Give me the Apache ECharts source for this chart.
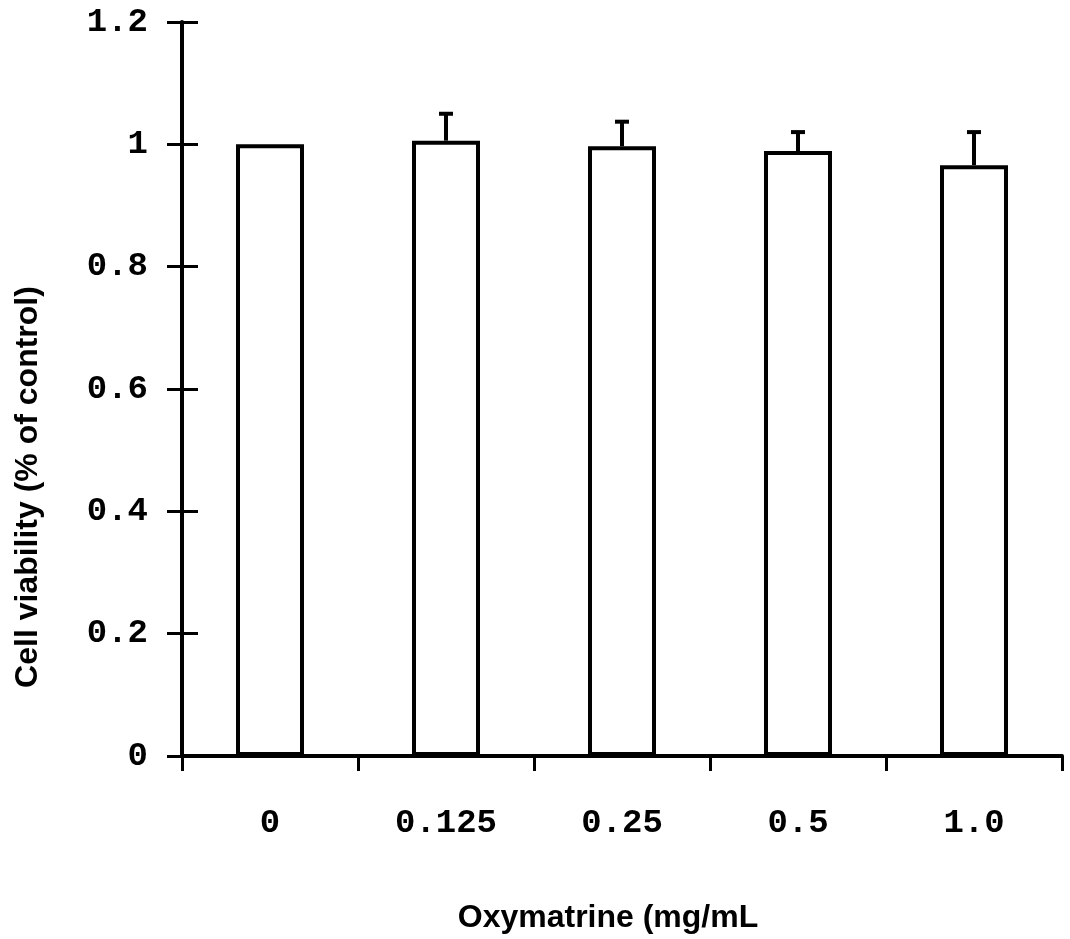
<!DOCTYPE html>
<html>
<head>
<meta charset="utf-8">
<title>Cell viability</title>
<script src="https://cdn.jsdelivr.net/npm/echarts@6/dist/echarts.min.js"></script>
<style>
  html, body { margin: 0; padding: 0; background: #fff; }
  #chart { width: 1070px; height: 939px; }
</style>
</head>
<body>
<div id="chart"></div>
<script>
// data
var doses = ['0', '0.125', '0.25', '0.5', '1.0'];
var viability = [1.0, 1.006, 0.997, 0.989, 0.966];
var errUpper = [0, 0.044, 0.040, 0.031, 0.054];
var yTicks = [0, 0.2, 0.4, 0.6, 0.8, 1, 1.2];

var monoFont = '"Liberation Mono", "DejaVu Sans Mono", monospace';
var sansFont = '"Liberation Sans", Arial, sans-serif';

var chart = echarts.init(document.getElementById('chart'));
chart.setOption({
    backgroundColor: '#fff',
    animation: false,
    grid: { left: 182, right: 8, top: 22, bottom: 181 },
    xAxis: {
        type: 'category',
        data: doses,
        boundaryGap: true,
        axisLine: { lineStyle: { color: '#000', width: 4 } },
        axisTick: { show: true, length: 15, lineStyle: { color: '#000', width: 3 } },
        axisLabel: {
            color: '#000', fontFamily: monoFont, fontWeight: 'bold', fontSize: 34, margin: 50
        },
        name: 'Oxymatrine (mg/mL',
        nameLocation: 'middle',
        nameGap: 146,
        nameTextStyle: {
            color: '#000', fontFamily: sansFont, fontWeight: 'bold', fontSize: 32,
            padding: [0, 28, 0, 0]
        }
    },
    yAxis: [{
        type: 'value',
        min: 0, max: 1.2, interval: 0.2,
        axisLine: { show: true, lineStyle: { color: '#000', width: 4 } },
        axisTick: { show: true, length: 15, lineStyle: { color: '#000', width: 3 } },
        splitLine: { show: false },
        axisLabel: {
            color: '#000', fontFamily: monoFont, fontWeight: 'bold', fontSize: 34, margin: 34,
            formatter: function (v) {
                for (var i = 0; i < yTicks.length; i++) {
                    if (Math.abs(yTicks[i] - v) < 1e-6) return String(yTicks[i]);
                }
                return '';
            }
        },
        name: 'Cell viability (% of control)',
        nameLocation: 'middle',
        nameGap: 138,
        nameTextStyle: {
            color: '#000', fontFamily: sansFont, fontWeight: 'bold', fontSize: 32,
            padding: [0, 196, 0, 0]
        }
    }, {
        // inner half of the y ticks
        type: 'value',
        position: 'left',
        min: 0, max: 1.2, interval: 0.2,
        axisLine: { show: false },
        axisTick: { show: true, inside: true, length: 16, lineStyle: { color: '#000', width: 3 } },
        axisLabel: { show: false },
        splitLine: { show: false }
    }],
    series: [{
        type: 'bar',
        data: viability,
        barWidth: 68,
        itemStyle: { color: '#fff', borderColor: '#000', borderWidth: 4 },
        z: 2
    }, {
        type: 'custom',
        z: 3,
        data: doses.map(function (d, i) { return [i, viability[i], viability[i] + errUpper[i]]; }),
        renderItem: function (params, api) {
            if (api.value(2) <= api.value(1)) return null;
            var base = api.coord([api.value(0), api.value(1)]);
            var top = api.coord([api.value(0), api.value(2)]);
            var half = 7;
            var st = { stroke: '#000', lineWidth: 4 };
            return {
                type: 'group',
                children: [
                    { type: 'line', shape: { x1: base[0], y1: base[1], x2: top[0], y2: top[1] }, style: st },
                    { type: 'line', shape: { x1: top[0] - half, y1: top[1], x2: top[0] + half, y2: top[1] }, style: st }
                ]
            };
        }
    }]
});
</script>
</body>
</html>
